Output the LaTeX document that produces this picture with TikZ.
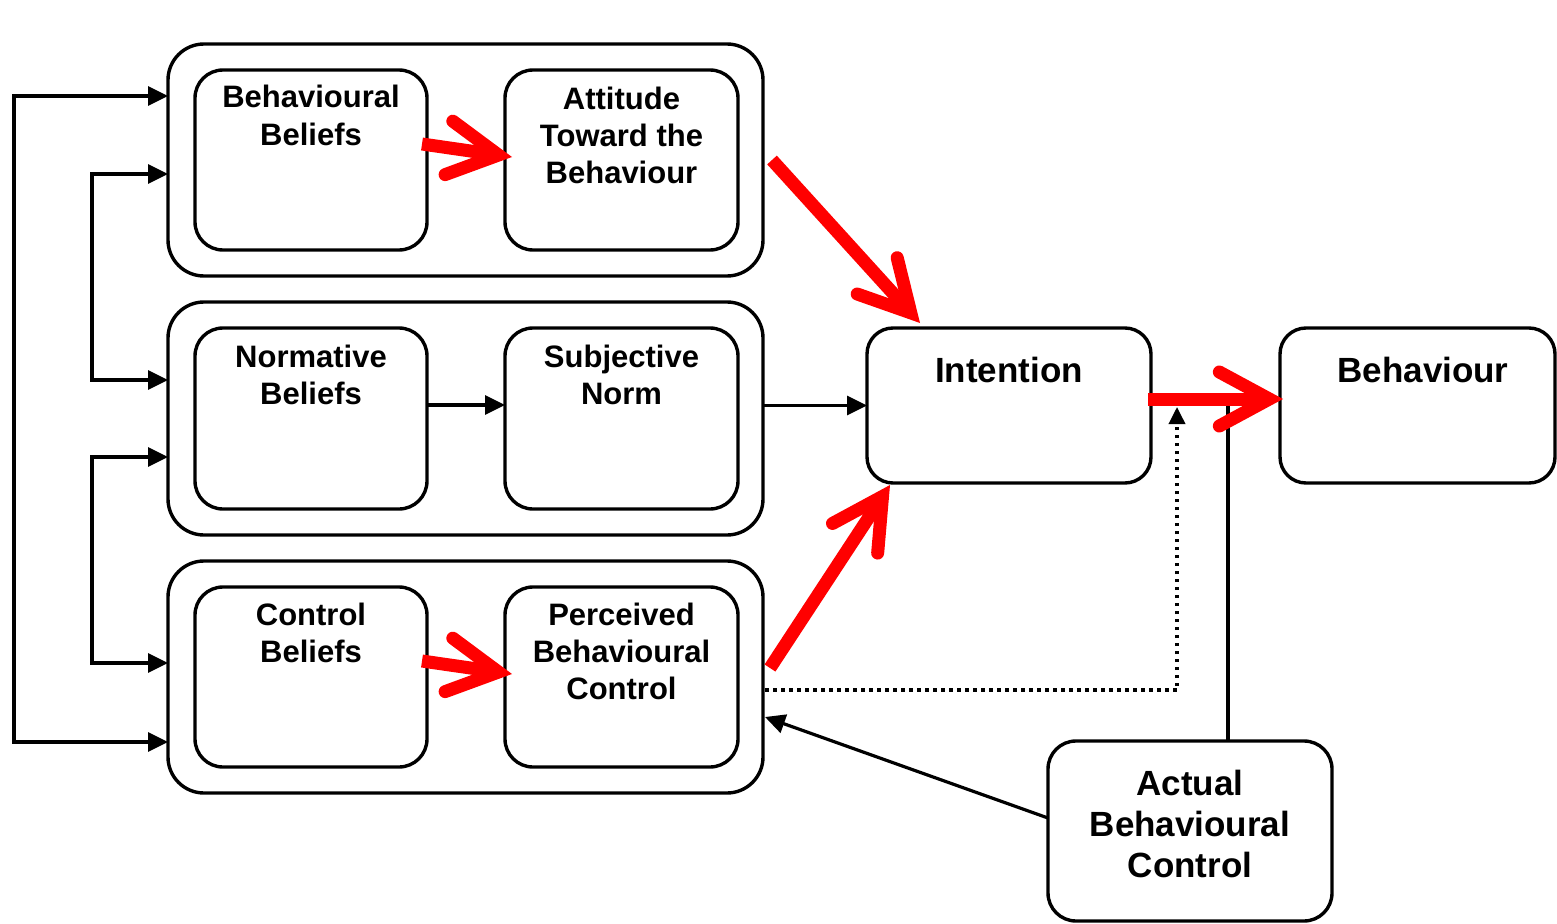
\documentclass[tikz,border=0pt]{standalone}
\usepackage{fontspec}
\setmainfont{Liberation Sans}
\usetikzlibrary{arrows.meta,calc}
\begin{document}
\begin{tikzpicture}[x=1pt,y=-1pt,
  box/.style={draw=black, line width=3.4pt, rounded corners=28pt, outer sep=0pt, inner sep=0pt, fill=white},
  group/.style={box, rounded corners=36pt},
  lbl/.style={font=\bfseries\fontsize{31}{37}\selectfont, align=center, inner sep=0pt, anchor=base},
  biglbl/.style={font=\bfseries\fontsize{35}{41}\selectfont, align=center, inner sep=0pt, anchor=base},
  link/.style={draw=black, line width=3.2pt, -{Triangle[length=20pt,width=19pt]}},
  twoway/.style={draw=black, line width=3.2pt, {Triangle[length=20pt,width=19pt]}-{Triangle[length=20pt,width=19pt]}},
  redarrow/.style={draw=red, line width=13pt, -{Straight Barb[length=50pt,width=54pt,line cap=round,line join=miter]}},
  dotline/.style={draw=black, line width=3.5pt, dash pattern=on 3.5pt off 4.5pt, -{Triangle[length=17pt,width=16pt]}}
]
\useasboundingbox (0,0) rectangle (1557,923);

% construct groups
\node[group, minimum width=595pt, minimum height=232pt] (g1) at (465.5,160) {};
\node[group, minimum width=595pt, minimum height=233pt] (g2) at (465.5,418.5) {};
\node[group, minimum width=595pt, minimum height=232pt] (g3) at (465.5,677) {};

% belief and construct boxes
\node[box, minimum width=232pt, minimum height=180pt] (bb)  at (311,160) {};
\node[box, minimum width=233pt, minimum height=180pt] (atb) at (621.5,160) {};
\node[box, minimum width=232pt, minimum height=181pt] (nb)  at (311,418.5) {};
\node[box, minimum width=233pt, minimum height=181pt] (sn)  at (621.5,418.5) {};
\node[box, minimum width=232pt, minimum height=180pt] (cb)  at (311,677) {};
\node[box, minimum width=233pt, minimum height=180pt] (pbc) at (621.5,677) {};

% outcome boxes
\node[box, rounded corners=26pt, minimum width=284pt, minimum height=155pt] (int) at (1009,405.5) {};
\node[box, rounded corners=26pt, minimum width=275pt, minimum height=155pt] (beh) at (1417.5,405.5) {};
\node[box, minimum width=284pt, minimum height=180pt] (abc) at (1190,831) {};

% labels (base anchor sits on the last line)
\node[lbl] (bb-t)  at (311,145)   {Behavioural\\Beliefs};
\node[lbl] (atb-t) at (621.5,183) {Attitude\\Toward the\\Behaviour};
\node[lbl] (nb-t)  at (311,404)   {Normative\\Beliefs};
\node[lbl] (sn-t)  at (621.5,404) {Subjective\\Norm};
\node[lbl] (cb-t)  at (311,662)   {Control\\Beliefs};
\node[lbl] (pbc-t) at (621.5,699) {Perceived\\Behavioural\\Control};
\node[biglbl] (int-t) at (1009,382) {Intention};
\node[biglbl] (beh-t) at (1423,382) {Behaviour};
\node[biglbl] (abc-t) at (1190,877) {Actual\\Behavioural\\Control};

% feedback loops on the left
\draw[twoway] ($(g1.west)+(0,-64)$) -- (14,96) -- (14,742) -- ($(g3.west)+(0,65)$);
\draw[twoway] ($(g1.west)+(0,14)$) -- (92,174) -- (92,380) -- ($(g2.west)+(0,-38.5)$);
\draw[twoway] ($(g2.west)+(0,38.5)$) -- (92,457) -- (92,663) -- ($(g3.west)+(0,-14)$);

% black links
\draw[link] ($(nb.east)+(0,-13.5)$) -- ($(sn.west)+(0,-13.5)$);
\draw[link] (g2.east |- int.west) -- (int.west);
\coordinate (dotend) at ($(int.south east)+(26,-76)$);
\draw[dotline] ($(g3.east)+(2,13)$) -| (dotend);
\coordinate (abcup) at ($(abc.north)+(38,-341)$);
\draw[draw=black, line width=3.2pt] ($(abc.north)+(38,0)$) -- (abcup);
\draw[link] ($(abc.west)+(0,-13)$) -- ($(g3.east)+(2,40)$);

% highlighted paths
\draw[redarrow] ($(bb.east)+(-5,-16)$) -- ($(atb.west)+(7,-3)$);
\draw[redarrow] ($(cb.east)+(-5,-16)$) -- ($(pbc.west)+(7,-3)$);
\draw[redarrow] ($(g1.east)+(9,0)$) -- ($(int.north west)+(53,-5)$);
\draw[redarrow] ($(g3.east)+(7,-9)$) -- ($(int.south west)+(23,2)$);
\draw[redarrow] ($(int.east)+(-3,-6.5)$) -- ($(beh.west)+(3,-6.5)$);
\end{tikzpicture}
\end{document}
